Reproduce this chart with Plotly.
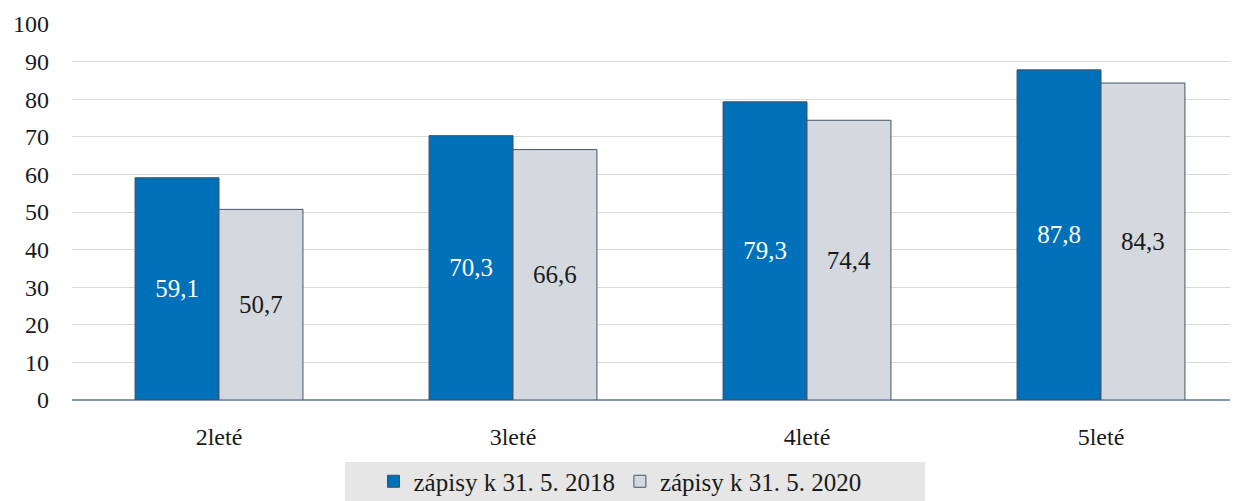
import plotly.graph_objects as go

categories = ["2leté", "3leté", "4leté", "5leté"]
series_names = ["zápisy k 31. 5. 2018", "zápisy k 31. 5. 2020"]
values_2018 = [59.1, 70.3, 79.3, 87.8]
values_2020 = [50.7, 66.6, 74.4, 84.3]
y_ticks = [0, 10, 20, 30, 40, 50, 60, 70, 80, 90, 100]

font_family = "Liberation Serif, Times New Roman, serif"

fig = go.Figure()
fig.add_trace(go.Bar(
    name=series_names[0], x=categories, y=values_2018,
    marker=dict(color="#0070b8", line=dict(color="#3b4f66", width=1)),
    text=[f"{v:.1f}".replace(".", ",") for v in values_2018],
    textposition="inside", insidetextanchor="middle",
    textfont=dict(color="white", size=25, family=font_family),
))
fig.add_trace(go.Bar(
    name=series_names[1], x=categories, y=values_2020,
    marker=dict(color="#d3d9df", line=dict(color="#44546a", width=1)),
    text=[f"{v:.1f}".replace(".", ",") for v in values_2020],
    textposition="inside", insidetextanchor="middle",
    textfont=dict(color="#1a1a1a", size=25, family=font_family),
))

# the page body adds an 8px offset; size the figure to the visible area
fig.update_layout(
    width=1230, height=493,
    margin=dict(l=64, r=0, t=16, b=101, autoexpand=False),
    paper_bgcolor="white", plot_bgcolor="white",
    barmode="group", bargap=0.429, bargroupgap=0,
    font=dict(family=font_family, size=24, color="#1a1a1a"),
    separators=", ",
    showlegend=True,
    legend=dict(orientation="h", x=0.470, xanchor="center", y=-0.2168, yanchor="middle",
                bgcolor="rgba(0,0,0,0)", font=dict(size=25, family=font_family),
                itemwidth=30, traceorder="normal"),
    uniformtext=dict(mode="show", minsize=10),
    shapes=[dict(type="rect", xref="paper", yref="paper", x0=0.234, x1=0.7316,
                 y0=-0.2686, y1=-0.165, fillcolor="#e6e6e6", line=dict(width=0),
                 layer="below")],
)
fig.update_xaxes(range=[-0.5, 3.466], showline=False, ticks="", automargin=False,
                 tickfont=dict(size=24), ticklabelstandoff=20)
fig.update_yaxes(range=[0, 100], tickvals=y_ticks, showgrid=True, gridcolor="#d9d9d9",
                 gridwidth=1, zeroline=True, zerolinecolor="#8496b0", zerolinewidth=1.5,
                 tickfont=dict(size=24), ticklen=0, ticks="", ticklabelstandoff=22,
                 automargin=False)

fig.write_html("out.html")
